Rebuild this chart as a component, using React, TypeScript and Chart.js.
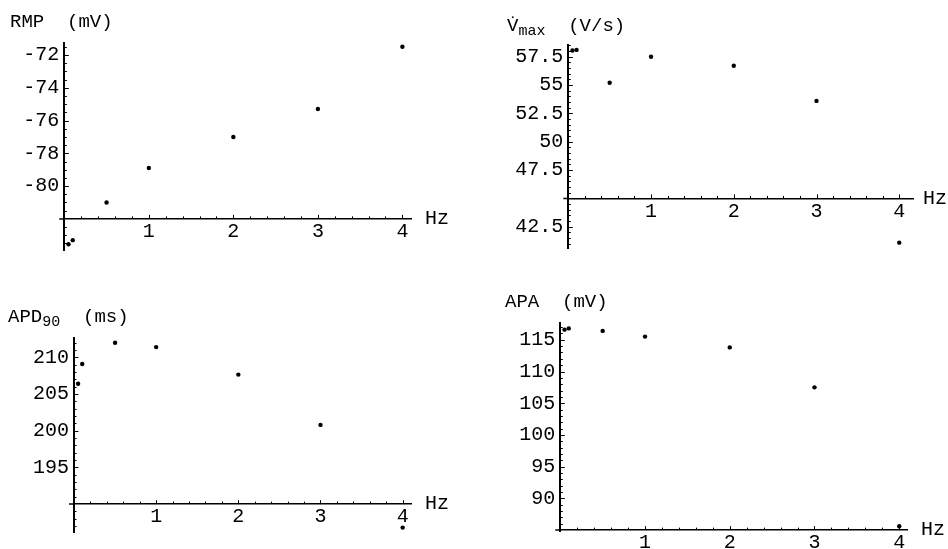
import React, { useEffect, useRef } from 'react';
import { Chart, registerables } from 'chart.js';

Chart.register(...registerables);

// ---- data ----
const FREQ_HZ = [0.05, 0.1, 0.5, 1, 2, 3, 4];
const RMP_MV = [-83.55, -83.3, -81.0, -78.9, -77.0, -75.3, -71.5];
const VMAX_VS = [58.05, 58.1, 55.2, 57.5, 56.7, 53.6, 41.1];
const APD90_MS = [206.4, 209.1, 212.0, 211.4, 207.65, 200.8, 186.8];
const APA_MV = [116.6, 116.8, 116.4, 115.5, 113.8, 107.5, 85.6];

const X_TICKS = [1, 2, 3, 4];
const X_TICK_LABELS = ['1', '2', '3', '4'];
const RMP_TICKS = [-80, -78, -76, -74, -72];
const RMP_TICK_LABELS = ['-80', '-78', '-76', '-74', '-72'];
const VMAX_TICKS = [42.5, 47.5, 50, 52.5, 55, 57.5];
const VMAX_TICK_LABELS = ['42.5', '47.5', '50', '52.5', '55', '57.5'];
const APD_TICKS = [195, 200, 205, 210];
const APD_TICK_LABELS = ['195', '200', '205', '210'];
const APA_TICKS = [90, 95, 100, 105, 110, 115];
const APA_TICK_LABELS = ['90', '95', '100', '105', '110', '115'];

const FONT = '"Liberation Mono", "Courier New", monospace';
const TITLE_SIZE = 19;
const TICK_SIZE = 20;
const SUB_SIZE = 15;
const Y_SCALE_WIDTH = 60;

interface TitlePart { text: string; sub?: boolean }
interface PanelSpec {
  key: string;
  values: number[];
  yTicks: number[];
  yLabels: string[];
  title: TitlePart[];
  cross: number;
  xMax: number; yMin: number; yMax: number;
  xMinor: number; xMajor: number; yMinor: number; yMajor: number;
  box: { left: number; top: number; width: number; height: number };
  pad: { left: number; top: number; right: number; bottom: number };
  titlePos: { x: number; y: number };
  hzX: number;
}

const PANELS: PanelSpec[] = [
  {
    key: 'rmp', values: RMP_MV, yTicks: RMP_TICKS, yLabels: RMP_TICK_LABELS,
    title: [{ text: 'RMP  (mV)' }],
    cross: -82, xMax: 4.11, yMin: -83.9, yMax: -71.25,
    xMinor: 0.2, xMajor: 1, yMinor: 0.5, yMajor: 2,
    box: { left: 0, top: 0, width: 474, height: 268 },
    pad: { left: 64.3 - Y_SCALE_WIDTH, top: 42.7, right: 62.3, bottom: 18 },
    titlePos: { x: 10, y: 27 }, hzX: 425,
  },
  {
    key: 'vmax', values: VMAX_VS, yTicks: VMAX_TICKS, yLabels: VMAX_TICK_LABELS,
    title: [{ text: 'V\u0307' }, { text: 'max', sub: true }, { text: '  (V/s)' }],
    cross: 45, xMax: 4.17, yMin: 40.6, yMax: 58.53,
    xMinor: 0.2, xMajor: 1, yMinor: 0.5, yMajor: 2.5,
    box: { left: 474, top: 0, width: 474, height: 268 },
    pad: { left: 94.3 - Y_SCALE_WIDTH, top: 45, right: 34.7, bottom: 19.7 },
    titlePos: { x: 33, y: 31 }, hzX: 449,
  },
  {
    key: 'apd', values: APD90_MS, yTicks: APD_TICKS, yLabels: APD_TICK_LABELS,
    title: [{ text: 'APD' }, { text: '90', sub: true }, { text: '  (ms)' }],
    cross: 190, xMax: 4.11, yMin: 186.2, yMax: 212.6,
    xMinor: 0.2, xMajor: 1, yMinor: 1, yMajor: 5,
    box: { left: 0, top: 268, width: 474, height: 281 },
    pad: { left: 74 - Y_SCALE_WIDTH, top: 70.3, right: 62.3, bottom: 9 },
    titlePos: { x: 8, y: 53.7 }, hzX: 425,
  },
  {
    key: 'apa', values: APA_MV, yTicks: APA_TICKS, yLabels: APA_TICK_LABELS,
    title: [{ text: 'APA  (mV)' }],
    cross: 85, xMax: 4.10, yMin: 84.75, yMax: 117.6,
    xMinor: 0.2, xMajor: 1, yMinor: 1, yMajor: 5,
    box: { left: 474, top: 268, width: 474, height: 281 },
    pad: { left: 86.3 - Y_SCALE_WIDTH, top: 55.3, right: 40.3, bottom: 17.3 },
    titlePos: { x: 31, y: 39.3 }, hzX: 447,
  },
];

const isMultiple = (v: number, step: number) => Math.abs(v / step - Math.round(v / step)) < 1e-6;

const mmaPlugin = {
  id: 'mma',
  afterDraw(chart: any, _args: any, opts: any) {
    const { ctx } = chart;
    const xs = chart.scales.x;
    const ys = chart.scales.y;
    const ax = xs.getPixelForValue(0);
    const ay = ys.getPixelForValue(opts.cross);
    ctx.save();
    ctx.strokeStyle = '#000';
    // short stub of the x axis to the left of the y axis
    ctx.lineWidth = 1.5;
    ctx.beginPath();
    ctx.moveTo(ax - 5, Math.round(ay * 2) / 2);
    ctx.lineTo(ax, Math.round(ay * 2) / 2);
    ctx.stroke();
    ctx.lineWidth = 1;
    // x ticks (inward, above the axis)
    for (let i = Math.ceil(xs.min / opts.xMinor); i * opts.xMinor <= xs.max + 1e-9; i++) {
      const v = i * opts.xMinor;
      if (Math.abs(v) < 1e-9) continue;
      const major = isMultiple(v, opts.xMajor);
      const px = Math.round(xs.getPixelForValue(v)) + 0.5;
      ctx.beginPath();
      ctx.moveTo(px, ay);
      ctx.lineTo(px, ay - (major ? 4 : 2.5));
      ctx.stroke();
    }
    // y ticks (inward, right of the axis)
    for (let i = Math.ceil(ys.min / opts.yMinor); i * opts.yMinor <= ys.max + 1e-9; i++) {
      const v = i * opts.yMinor;
      if (Math.abs(v - opts.cross) < 1e-9) continue;
      const major = isMultiple(v, opts.yMajor);
      const py = Math.round(ys.getPixelForValue(v)) + 0.5;
      ctx.beginPath();
      ctx.moveTo(ax, py);
      ctx.lineTo(ax + (major ? 4.5 : 2.5), py);
      ctx.stroke();
    }
    // axis label (top-left)
    ctx.fillStyle = '#000';
    ctx.textBaseline = 'alphabetic';
    ctx.textAlign = 'left';
    let tx = opts.titlePos.x;
    for (const part of opts.title as TitlePart[]) {
      ctx.font = `${part.sub ? SUB_SIZE : TITLE_SIZE}px ${FONT}`;
      ctx.fillText(part.text, tx, part.sub ? opts.titlePos.y + 4 : opts.titlePos.y);
      tx += ctx.measureText(part.text).width;
    }
    // Hz label at end of x axis
    ctx.font = `${TICK_SIZE}px ${FONT}`;
    ctx.textBaseline = 'middle';
    ctx.fillText('Hz', opts.hzX, ay);
    ctx.restore();
  },
};

function Panel({ spec }: { spec: PanelSpec }) {
  const ref = useRef<HTMLCanvasElement>(null);
  useEffect(() => {
    if (!ref.current) return;
    const chart = new Chart(ref.current, {
      type: 'scatter',
      data: {
        datasets: [
          {
            data: FREQ_HZ.map((x, i) => ({ x, y: spec.values[i] })),
            backgroundColor: '#000',
            borderColor: '#000',
            pointRadius: 2.2,
            pointBorderWidth: 0,
            showLine: false,
            clip: false as any,
          },
        ],
      },
      options: {
        responsive: false,
        animation: false,
        events: [],
        layout: { padding: spec.pad },
        plugins: {
          legend: { display: false },
          tooltip: { enabled: false },
          title: { display: false },
          mma: {
            cross: spec.cross,
            xMinor: spec.xMinor, xMajor: spec.xMajor,
            yMinor: spec.yMinor, yMajor: spec.yMajor,
            title: spec.title, titlePos: spec.titlePos, hzX: spec.hzX,
          },
        } as any,
        scales: {
          x: {
            type: 'linear',
            min: 0,
            max: spec.xMax,
            position: { y: spec.cross } as any,
            afterBuildTicks: (s: any) => { s.ticks = X_TICKS.map((value) => ({ value })); },
            ticks: {
              autoSkip: false,
              maxRotation: 0,
              padding: 1,
              color: '#000',
              font: { family: FONT, size: TICK_SIZE },
              callback: (_v: any, i: number) => X_TICK_LABELS[i],
            },
            grid: { display: false, drawTicks: false },
            border: { display: true, color: '#000', width: 1.5 },
          },
          y: {
            type: 'linear',
            min: spec.yMin,
            max: spec.yMax,
            position: 'left',
            afterFit: (s: any) => { s.width = Y_SCALE_WIDTH; },
            afterBuildTicks: (s: any) => { s.ticks = spec.yTicks.map((value) => ({ value })); },
            ticks: {
              autoSkip: false,
              padding: 5,
              color: '#000',
              font: { family: FONT, size: TICK_SIZE },
              callback: (_v: any, i: number) => spec.yLabels[i],
            },
            grid: { display: false, drawTicks: false },
            border: { display: true, color: '#000', width: 2 },
          },
        },
      },
      plugins: [mmaPlugin],
    });
    return () => chart.destroy();
  }, [spec]);
  return (
    <canvas
      ref={ref}
      width={spec.box.width}
      height={spec.box.height}
      style={{ position: 'absolute', left: spec.box.left, top: spec.box.top, width: spec.box.width, height: spec.box.height }}
    />
  );
}

export default function App() {
  return (
    <div style={{ position: 'fixed', left: 0, top: 0, width: 948, height: 549, background: '#fff', overflow: 'hidden' }}>
      {PANELS.map((p) => (
        <Panel key={p.key} spec={p} />
      ))}
    </div>
  );
}
